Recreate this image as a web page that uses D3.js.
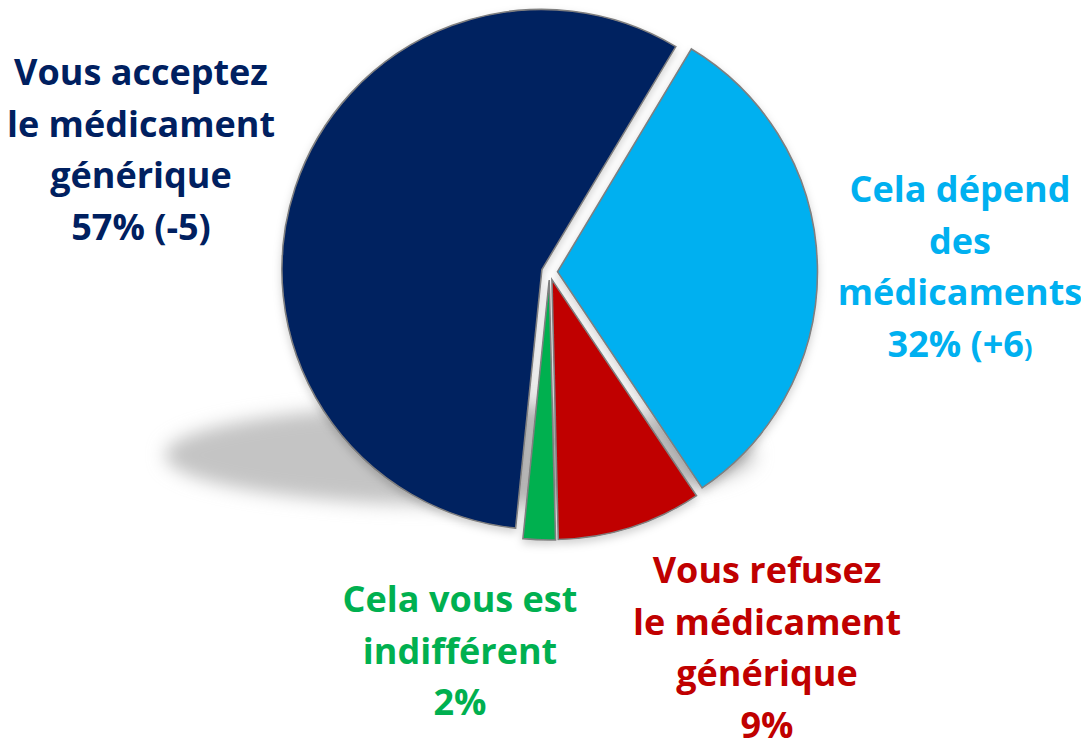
<!DOCTYPE html>
<html>
<head>
<meta charset="utf-8">
<script src="https://cdn.jsdelivr.net/npm/d3@7"></script>
<style>
  body { margin: 0; background: #fff; }
  text { font-family: "Open Sans", Lato, sans-serif; font-weight: bold; }
</style>
</head>
<body>
<div id="chart"></div>
<script>
// data
var categories = ["Vous acceptez le médicament générique", "Cela dépend des médicaments", "Vous refusez le médicament générique", "Cela vous est indifférent"];
var values = [57, 32, 9, 2];
var colors = ["#002060", "#00b0f0", "#c00000", "#00b050"];
var labelLines = [
    ["Vous acceptez", "le médicament", "générique", "57% (-5)"],
    ["Cela dépend", "des", "médicaments", "32% (+6)"],
    ["Vous refusez", "le médicament", "générique", "9%"],
    ["Cela vous est", "indifférent", "2%"]
];

var width = 1081, height = 743;
var cx = 549.5, cy = 272, radius = 260, explode = 8;

var svg = d3.select("#chart")
    .append("svg")
    .attr("width", width)
    .attr("height", height);

var defs = svg.append("defs");
defs.append("filter")
    .attr("id", "blur")
    .attr("x", "-20%").attr("y", "-50%").attr("width", "140%").attr("height", "200%")
    .append("feGaussianBlur")
    .attr("stdDeviation", 9);

var ds = defs.append("filter")
    .attr("id", "drop")
    .attr("x", "-10%").attr("y", "-10%").attr("width", "120%").attr("height", "125%");
ds.append("feDropShadow")
    .attr("dx", 0).attr("dy", 4)
    .attr("stdDeviation", 4)
    .attr("flood-color", "#000")
    .attr("flood-opacity", 0.18);

// floor shadow
svg.append("ellipse")
    .attr("cx", 460)
    .attr("cy", 455)
    .attr("rx", 295)
    .attr("ry", 50)
    .attr("fill", "#c4c4c4")
    .attr("filter", "url(#blur)");

var toRad = Math.PI / 180;
var startDeg = 31 - 360 * values[0] / 100;

var pie = d3.pie()
    .sort(null)
    .value(function(d) { return d; })
    .startAngle(startDeg * toRad)
    .endAngle((startDeg + 360) * toRad);

var arc = d3.arc()
    .innerRadius(0)
    .outerRadius(radius);

var g = svg.append("g")
    .attr("transform", "translate(" + cx + "," + cy + ")")
    .attr("filter", "url(#drop)");

g.selectAll("path")
    .data(pie(values))
    .enter()
    .append("path")
    .attr("d", arc)
    .attr("transform", function(d) {
        var mid = (d.startAngle + d.endAngle) / 2;
        return "translate(" + (Math.sin(mid) * explode) + "," + (-Math.cos(mid) * explode) + ")";
    })
    .style("fill", function(d, i) { return colors[i]; })
    .style("stroke", "#7f7f7f")
    .style("stroke-width", 1.6)
    .style("stroke-linejoin", "miter");

// labels
var labelPos = [
    {x: 141, y: 85},
    {x: 960, y: 202},
    {x: 767, y: 583},
    {x: 460, y: 612}
];
var lineHeight = 51.5;

labelLines.forEach(function(lines, i) {
    var t = svg.append("text")
        .attr("x", labelPos[i].x)
        .attr("y", labelPos[i].y)
        .attr("text-anchor", "middle")
        .style("font-size", "36px")
        .style("fill", colors[i]);
    lines.forEach(function(line, j) {
        var ts = t.append("tspan")
            .attr("x", labelPos[i].x)
            .attr("y", labelPos[i].y + j * lineHeight);
        if (line === "32% (+6)") {
            ts.append("tspan").text("32% (+6");
            ts.append("tspan").style("font-size", "25px").text(")");
        } else {
            ts.text(line);
        }
    });
});
</script>
</body>
</html>
